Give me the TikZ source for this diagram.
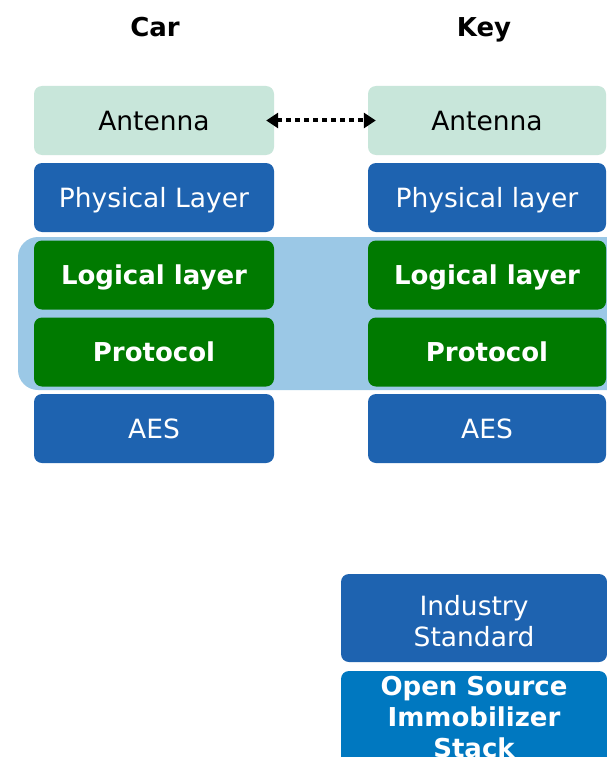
\documentclass[tikz,border=0pt]{standalone}
\usepackage{fontspec}
\setmainfont{DejaVu Sans}
\usetikzlibrary{arrows.meta}
\definecolor{antfill}{RGB}{200,230,218}
\definecolor{darkblue}{RGB}{30,99,176}
\definecolor{leafgreen}{RGB}{0,122,0}
\definecolor{skyblue}{RGB}{155,200,230}
\definecolor{osblue}{RGB}{0,120,192}
\begin{document}
\begin{tikzpicture}[x=1pt,y=-1pt,
  layerbox/.style={rectangle, rounded corners=8pt, minimum width=240pt, minimum height=69pt, inner sep=0pt, align=center, font=\fontsize{26.5}{31}\selectfont},
  oneline/.style={text height=19.3pt, text depth=0pt},
  antbox/.style={layerbox, oneline, fill=antfill, text=black},
  bluebox/.style={layerbox, oneline, fill=darkblue, text=white},
  greenbox/.style={layerbox, oneline, fill=leafgreen, text=white, font=\fontsize{26}{31}\selectfont\bfseries},
  title/.style={font=\fontsize{26}{31}\selectfont\bfseries, text=black, inner sep=0pt, anchor=base}]
\useasboundingbox (0,0) rectangle (607,757);
\clip (0,0) rectangle (607,757);
\fill[white] (0,0) rectangle (607,757);
% background band
\fill[skyblue, rounded corners=20pt] (18,237) rectangle (630,390);
% titles
\node[title] (car) at (155,37) {Car};
\node[title] (key) at (484,37) {Key};
% left column
\node[antbox] (antL) at (154,120.5) {Antenna};
\node[bluebox] (phyL) at (154,197.5) {Physical Layer};
\node[greenbox] (logL) at (154,275) {Logical layer};
\node[greenbox] (proL) at (154,352) {Protocol};
\node[bluebox] (aesL) at (154,428.5) {AES};
% right column
\node[antbox, minimum width=238pt] (antR) at (487,120.5) {Antenna};
\node[bluebox, minimum width=238pt] (phyR) at (487,197.5) {Physical layer};
\node[greenbox, minimum width=238pt] (logR) at (487,275) {Logical layer};
\node[greenbox, minimum width=238pt] (proR) at (487,352) {Protocol};
\node[bluebox, minimum width=238pt] (aesR) at (487,428.5) {AES};
% legend
\fill[darkblue, rounded corners=8pt] (341,574) rectangle (607,662);
\node[text=white, align=center, inner sep=0pt, font=\fontsize{26.5}{31}\selectfont] (ind) at (474,621) {Industry\\Standard};
\fill[osblue, rounded corners=8pt] (341,671) rectangle (607,770);
\node[text=white, align=center, inner sep=0pt, font=\fontsize{26}{31}\selectfont\bfseries] (os) at (474,717) {Open Source\\Immobilizer\\Stack};
% arrow
\draw[line width=4pt, dash pattern=on 5pt off 4pt, {Triangle[length=12pt,width=15pt]}-{Triangle[length=12pt,width=15pt]}, shorten <=-8pt, shorten >=-8pt] (antL.east) -- (antR.west);
\end{tikzpicture}
\end{document}
